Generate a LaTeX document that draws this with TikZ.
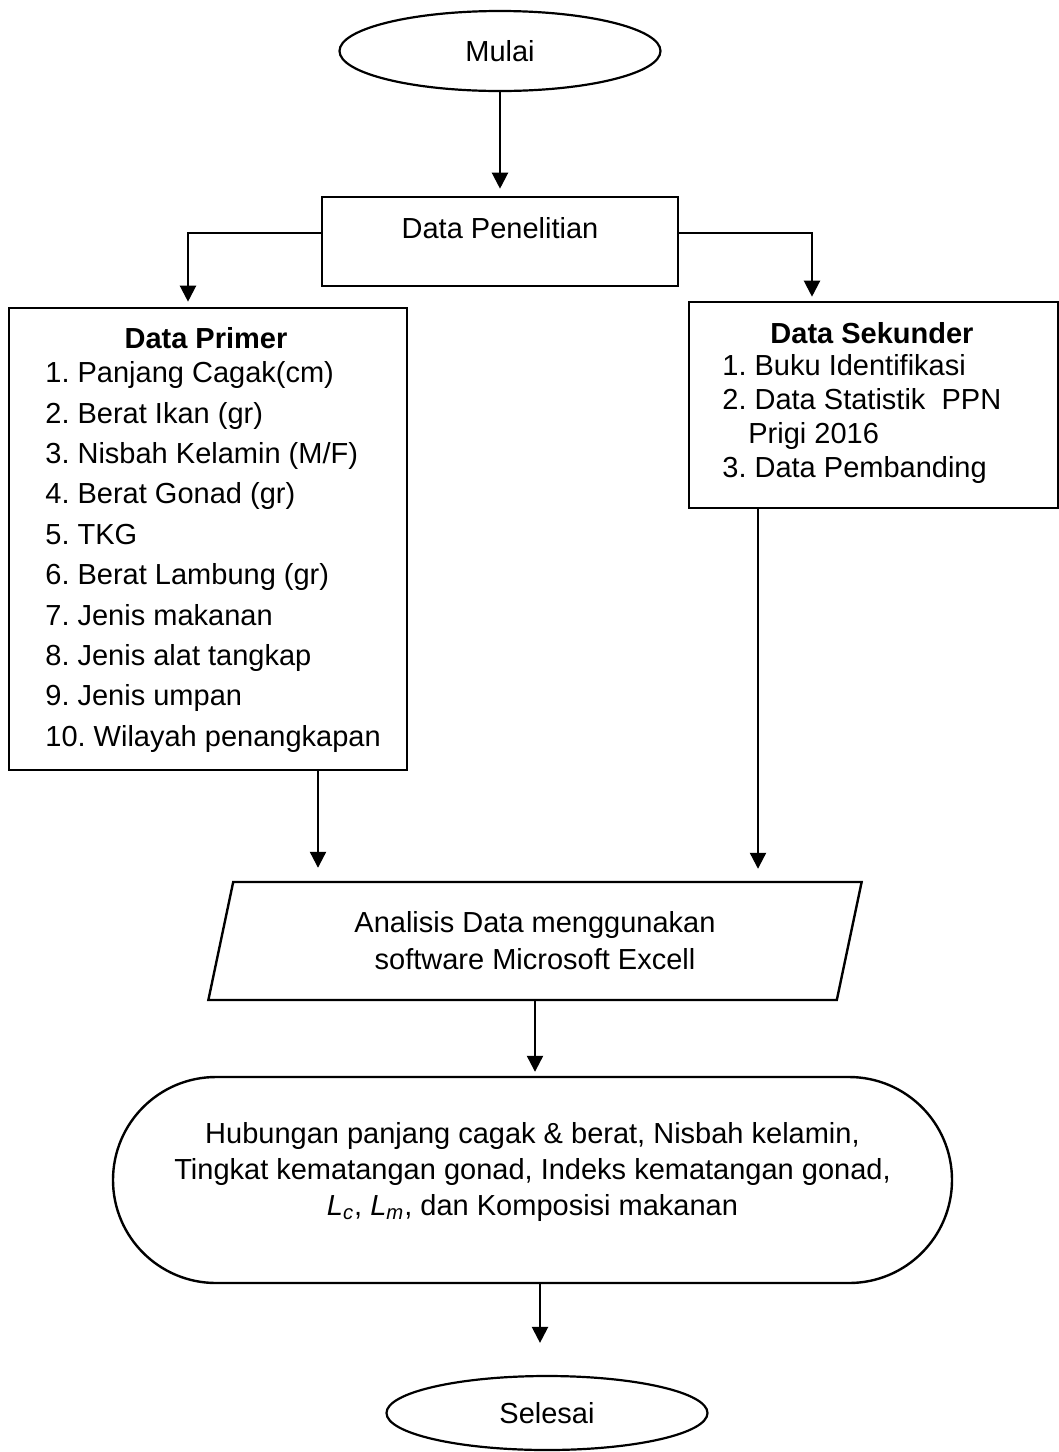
\documentclass[tikz,border=0pt]{standalone}
\usepackage{fontspec}
\setmainfont{Liberation Sans}
\usepackage{tikz}
\usetikzlibrary{arrows.meta,shapes.geometric,shapes.misc,positioning}
\frenchspacing
\newcommand{\fcfont}{\fontsize{14.5}{20.2}\selectfont}
\tikzset{
  fcterm/.style={ellipse,draw,line width=1.1pt,minimum width=160.5pt,
                 minimum height=40pt,inner sep=0pt,font=\fcfont},
  fcbox/.style={rectangle,draw,line width=1.3pt,inner sep=0pt},
  fcdata/.style={trapezium,trapezium left angle=75.7,
                 trapezium right angle=104.3,trapezium stretches=true,
                 draw,line width=1.2pt,inner sep=0pt,align=center,
                 font=\fontsize{14.5}{18.5}\selectfont},
  fcresult/.style={rounded rectangle,draw,line width=1.2pt,inner sep=0pt},
  fcarrow/.style={-{Triangle[length=8pt,width=8pt]},line width=1.1pt},
  fclabel/.style={font=\fcfont,inner sep=0pt,align=left}
}
\begin{document}
\begin{tikzpicture}[x=0.5pt,y=-0.5pt]
    \useasboundingbox (0,0) rectangle (1059,1452);

    \node[fcterm] (mulai) at (500,51) {Mulai};

    \node[fcbox,minimum width=178pt,minimum height=44.5pt] (penelitian)
      at (500,241.5) {};
    \node[fclabel] (penelitiant) at (500,228) {Data Penelitian};

    \begin{scope}
      \node[fcbox,minimum width=199pt,minimum height=231pt] (primer)
        at (208,539) {};
      \node[fclabel,font=\fcfont\bfseries] (primerjudul) at (206,338)
        {Data Primer};
      \node[fclabel,anchor=west] (primerisi) at (45,557)
        {1. Panjang Cagak(cm)\\2. Berat Ikan (gr)\\3. Nisbah Kelamin (M/F)\\
         4. Berat Gonad (gr)\\5. TKG\\6. Berat Lambung (gr)\\
         7. Jenis makanan\\8. Jenis alat tangkap\\9. Jenis umpan\\
         10. Wilayah penangkapan};
    \end{scope}

    \begin{scope}
      \node[fcbox,minimum width=184.5pt,minimum height=103pt] (sekunder)
        at (873.5,405) {};
      \node[fclabel,font=\fcfont\bfseries] (sekunderjudul) at (872,333)
        {Data Sekunder};
      \node[fclabel,anchor=west,font=\fontsize{14.5}{16.9}\selectfont]
        (sekunderisi) at (722,419)
        {1. Buku Identifikasi\\2. Data Statistik\ \ PPN\\
         \hspace*{13pt}Prigi 2016\\3. Data Pembanding};
    \end{scope}

    \node[fcdata,minimum width=327pt,minimum height=59pt] (analisis)
      at (535,941) {Analisis Data menggunakan\\software Microsoft Excell};

    \node[fcresult,minimum width=419.5pt,minimum height=103pt] (hasil)
      at (532.5,1180) {};
    \node[fclabel,align=center,font=\fontsize{14.5}{18}\selectfont]
      (hasilt) at (532.5,1172)
      {Hubungan panjang cagak \& berat, Nisbah kelamin,\\
       Tingkat kematangan gonad, Indeks kematangan gonad,\\
       \textit{L\textsubscript{c}}, \textit{L\textsubscript{m}},
       dan Komposisi makanan};

    \node[fcterm,minimum height=37pt] (selesai) at (547,1413) {Selesai};

    \draw[fcarrow,shorten >=3.5pt] (mulai) -- (penelitian);
    \draw[fcarrow,shorten >=2.5pt] ([yshift=4.25pt]penelitian.west)
      -| ([xshift=-10pt]primer.north);
    \draw[fcarrow,shorten >=2pt] ([yshift=4.25pt]penelitian.east)
      -| ([xshift=-30.75pt]sekunder.north);
    \draw[fcarrow,shorten >=6.5pt] ([xshift=55pt]primer.south)
      -- ([xshift=55pt]primer.south |- analisis.north);
    \draw[fcarrow,shorten >=6pt] ([xshift=-57.75pt]sekunder.south)
      -- ([xshift=-57.75pt]sekunder.south |- analisis.north);
    \draw[fcarrow,shorten >=2pt] (analisis.south)
      -- (analisis.south |- hasil.north);
    \draw[fcarrow,shorten >=16pt] ([xshift=3.75pt]hasil.south)
      -- ([xshift=3.75pt]hasil.south |- selesai.north);
  \end{tikzpicture}
\end{document}
